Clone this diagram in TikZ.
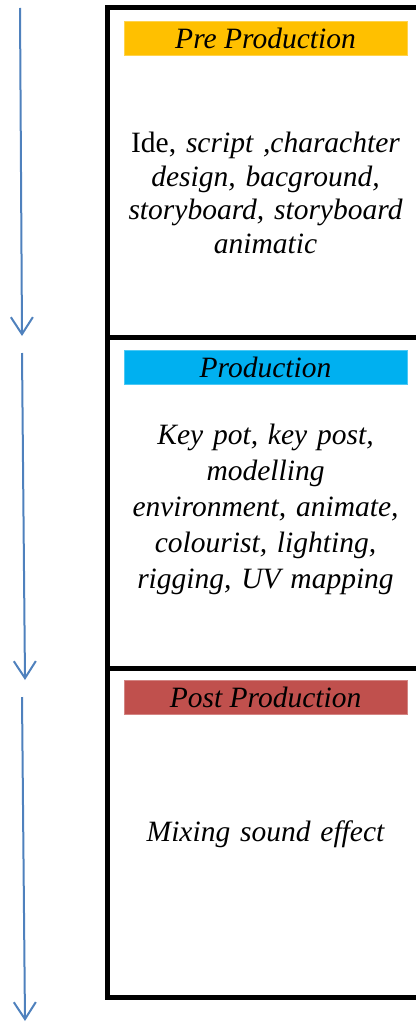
\documentclass[tikz,border=0pt]{standalone}
\usepackage{fontspec}
\setmainfont{Liberation Serif}
\usetikzlibrary{arrows.meta}
\definecolor{preC}{HTML}{FFC000}
\definecolor{prodC}{HTML}{00B0F0}
\definecolor{postC}{HTML}{C0504D}
\definecolor{arrC}{HTML}{4F81BD}
\tikzset{
  header/.style={minimum width=283pt, minimum height=34pt, inner sep=0pt, font=\fontsize{29.5}{34}\selectfont\itshape},
  body/.style={align=center, text width=300pt, inner sep=0pt, font=\fontsize{29.5}{33.5}\selectfont\itshape},
  flow/.style={draw=arrC, line width=2pt, -{Straight Barb[length=17pt,width=22pt,line width=2pt]}},
  frame/.style={draw=black, line width=5pt}
}
\begin{document}
\begin{tikzpicture}[x=1pt,y=-1pt]
\useasboundingbox (0,0) rectangle (415,1022);
% frame
\draw[frame] (440,8) -- (107,8) -- (107,997) -- (440,997);
\draw[frame] (107,337) -- (440,337);
\draw[frame] (107,668) -- (440,668);
% headers
\node[header, fill=preC, draw=preC!70!white, line width=0.6pt] (pre) at (265.5,38) {Pre Production};
\node[header, fill=prodC, draw=prodC!70!white, line width=0.6pt] (prod) at (265.5,367.5) {Production};
\node[header, fill=postC, draw=postC!70!white, line width=0.6pt] (post) at (265.5,697.5) {Post Production};
% bodies
\node[body] (pretext) at (265.5,193) {{\upshape Ide,} script ,charachter\\ design, bacground,\\ storyboard, storyboard\\ animatic};
\node[body, font=\fontsize{29.5}{36}\selectfont\itshape] (prodtext) at (265.5,509) {Key pot, key post,\\ modelling\\ environment, animate,\\ colourist, lighting,\\ rigging, UV mapping};
\node[body] (posttext) at (265.5,834) {Mixing sound effect};
% arrows
\coordinate (a1s) at (20,8);
\coordinate (a1e) at (22,336);
\coordinate (a2s) at (22,353);
\coordinate (a2e) at (25,680);
\coordinate (a3s) at (22,697);
\coordinate (a3e) at (25,1021);
\draw[flow] (a1s) -- (a1e);
\draw[flow] (a2s) -- (a2e);
\draw[flow] (a3s) -- (a3e);
\end{tikzpicture}
\end{document}
